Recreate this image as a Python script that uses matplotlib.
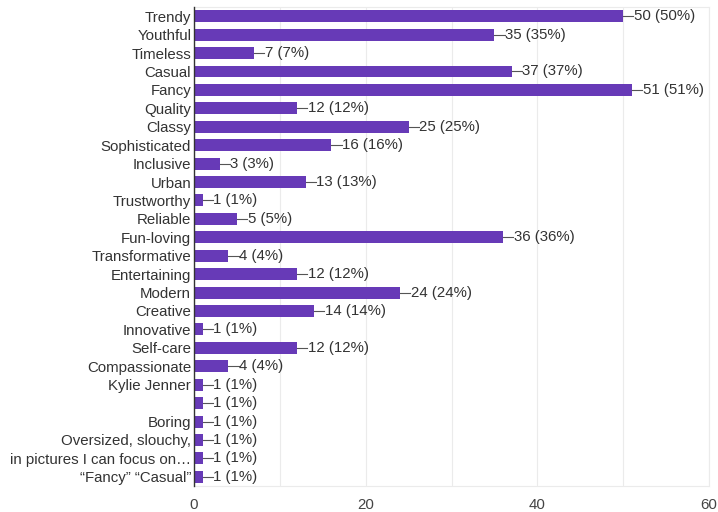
import matplotlib.pyplot as plt

categories = ["Trendy", "Youthful", "Timeless", "Casual", "Fancy", "Quality", "Classy",
              "Sophisticated", "Inclusive", "Urban", "Trustworthy", "Reliable", "Fun-loving",
              "Transformative", "Entertaining", "Modern", "Creative", "Innovative", "Self-care",
              "Compassionate", "Kylie Jenner", "", "Boring", "Oversized, slouchy,",
              "in pictures I can focus on\u2026", "\u201cFancy\u201d \u201cCasual\u201d"]
counts = [50, 35, 7, 37, 51, 12, 25, 16, 3, 13, 1, 5, 36, 4, 12, 24, 14, 1, 12, 4, 1, 1, 1, 1, 1, 1]
percents = [50, 35, 7, 37, 51, 12, 25, 16, 3, 13, 1, 5, 36, 4, 12, 24, 14, 1, 12, 4, 1, 1, 1, 1, 1, 1]
xticks = [0, 20, 40, 60]

plt.rcParams['font.family'] = ['Liberation Sans', 'DejaVu Sans']

fig = plt.figure(figsize=(7.18, 5.12), dpi=100)
ax = fig.add_axes([0.2702, 0.0508, 0.7173, 0.9355])

purple = "#673ab7"
ypos = list(range(len(categories)))
ax.barh(ypos, counts, height=0.65, color=purple, zorder=3)

for y, c, p in zip(ypos, counts, percents):
    ax.plot([c, c + 1.2], [y, y], color="#555555", lw=0.8, zorder=3)
    ax.text(c + 1.25, y, f"{c} ({p}%)", va="center", ha="left", fontsize=10.8, color="#333333")

ax.set_ylim(len(categories) - 0.5, -0.5)
ax.set_xlim(0, 60)
ax.set_yticks(ypos)
ax.set_yticklabels(categories, fontsize=10.8, color="#333333")
ax.set_xticks(xticks)
ax.set_xticklabels([str(t) for t in xticks], fontsize=10.8, color="#444444")
ax.tick_params(axis="y", length=0, pad=2)
ax.tick_params(axis="x", length=0, pad=9)
ax.set_xticks(range(0, 61, 10), minor=True)
ax.grid(True, axis="x", which="both", color="#ebebeb", lw=0.8, zorder=0)
ax.tick_params(axis="x", which="minor", length=0)

for side in ["top", "right", "bottom"]:
    ax.spines[side].set_color("#ebebeb")
    ax.spines[side].set_linewidth(0.8)
ax.spines["left"].set_color("#333333")
ax.spines["left"].set_linewidth(1.0)
ax.spines["left"].set_zorder(4)

fig.savefig("out.png", dpi=100)
